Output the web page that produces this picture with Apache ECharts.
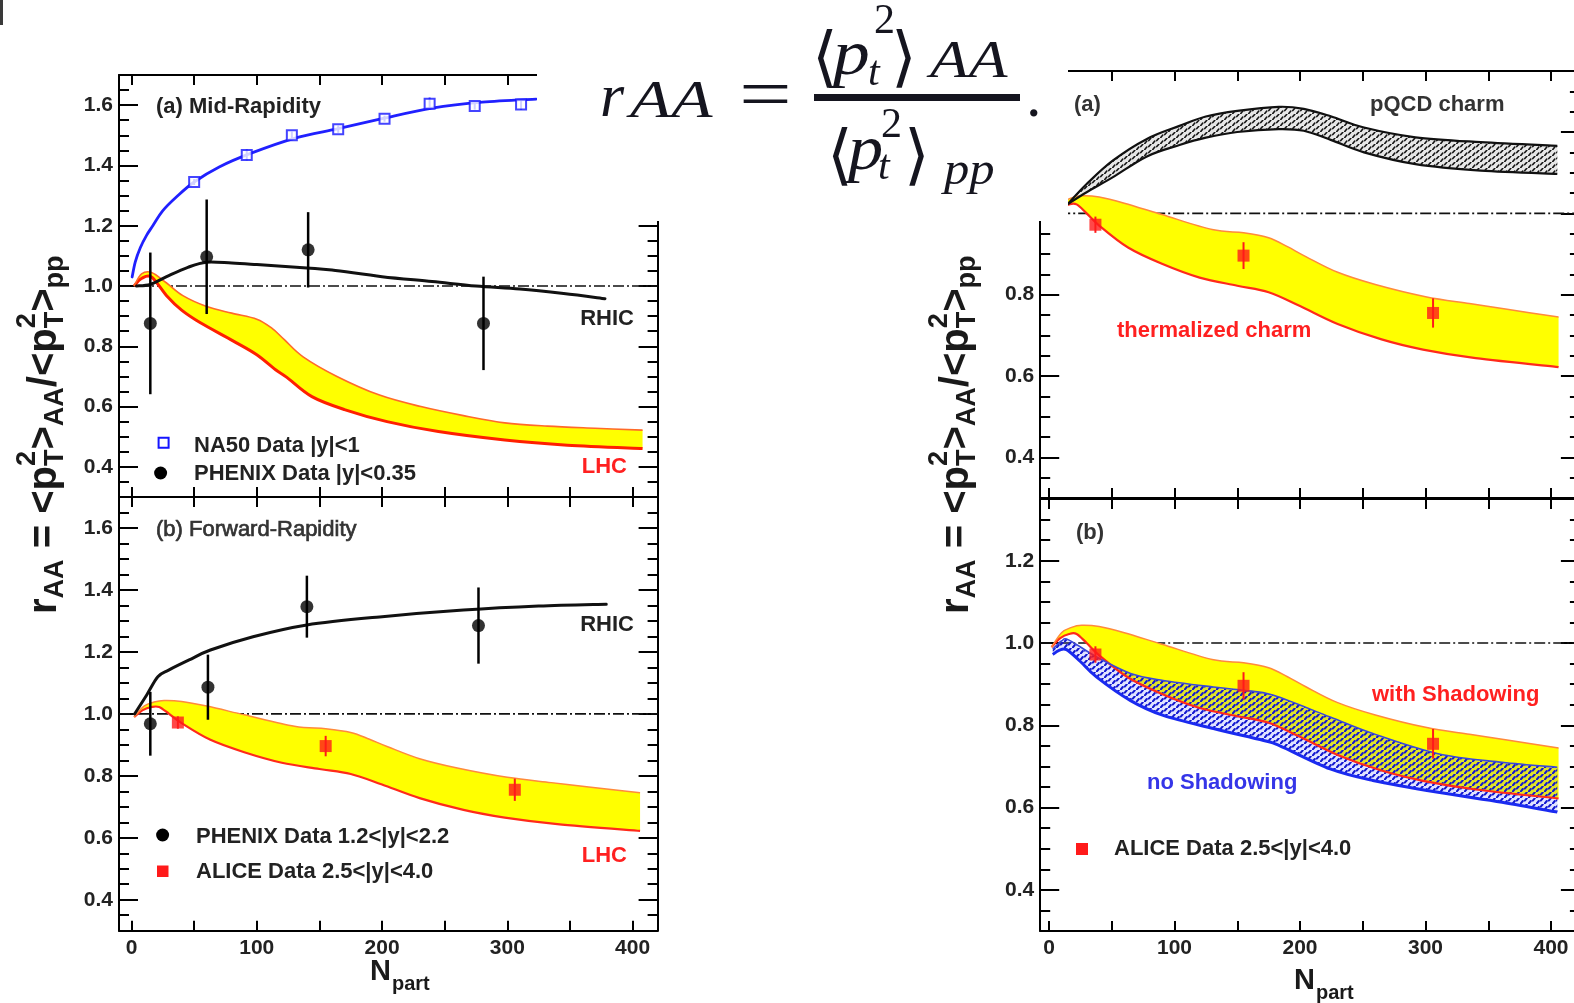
<!DOCTYPE html>
<html>
<head>
<meta charset="utf-8">
<title>r_AA versus N_part</title>
<script src="https://cdn.jsdelivr.net/npm/echarts@6.0.0/dist/echarts.min.js"></script>
<style>
  html, body { margin: 0; padding: 0; background: #ffffff; }
  #chart { width: 1574px; height: 1003px; }
</style>
</head>
<body>
<div id="chart"></div>
<script>
// ---------------- axis ranges and tick labels ----------------
const xRangeLeft = [-10, 420];
const xRangeRight = [-7, 423];
const yRangeLeft = [0.3, 1.7];
const yRangeRight = [0.3, 1.35];
const xTickLabels = [0, 100, 200, 300, 400];
const yTickLabelsLeft = [0.4, 0.6, 0.8, 1.0, 1.2, 1.4, 1.6];
const yTickLabelsRight = [0.4, 0.6, 0.8, 1.0, 1.2];
const unityLevel = 1.0;

// ---------------- (a) mid-rapidity, left ----------------
const na50N   = [50, 92, 128, 165, 202, 238, 274, 311];
const na50R   = [1.345, 1.435, 1.50, 1.52, 1.555, 1.605, 1.597, 1.602];
const na50Err = [0.010, 0.018, 0.012, 0.012, 0.010, 0.020, 0.012, 0.018];

const na50CurveN = [0.5, 3, 7, 12, 17, 25, 36, 50, 70, 95, 130, 165, 200, 240, 280, 323];
const na50CurveR = [1.03, 1.08, 1.127, 1.168, 1.2, 1.25, 1.296, 1.345, 1.395, 1.44, 1.49, 1.522, 1.555, 1.59, 1.61, 1.62];

const rhicMidN = [4, 15, 28, 45, 60, 80, 100, 140, 160, 200, 240, 275, 310, 345, 378];
const rhicMidR = [1.0, 1.005, 1.031, 1.062, 1.079, 1.076, 1.071, 1.06, 1.053, 1.031, 1.015, 1.0, 0.99, 0.975, 0.958];

const phenixMidN   = [15, 60, 141, 281];
const phenixMidR   = [0.876, 1.097, 1.12, 0.876];
const phenixMidErr = [0.235, 0.19, 0.125, 0.155];

const lhcMidUpN = [2, 8, 16, 28, 41, 60, 80, 100, 112, 122, 137, 164, 198, 231, 265, 298, 332, 370, 408];
const lhcMidUpR = [1.0, 1.04, 1.045, 1.01, 0.968, 0.932, 0.91, 0.89, 0.86, 0.822, 0.765, 0.70, 0.638, 0.60, 0.57, 0.546, 0.535, 0.528, 0.522];
const lhcMidLoN = [2, 8, 16, 28, 40, 55, 81, 100, 115, 124, 144, 170, 204, 245, 298, 348, 408];
const lhcMidLoR = [1.0, 1.025, 1.03, 0.968, 0.92, 0.878, 0.818, 0.772, 0.722, 0.697, 0.633, 0.59, 0.55, 0.517, 0.489, 0.472, 0.461];

// ---------------- (b) forward-rapidity, left ----------------
const rhicFwdN = [2.5, 12, 21, 30, 46, 63, 97, 140, 198, 265, 325, 379];
const rhicFwdR = [1.0, 1.06, 1.12, 1.142, 1.174, 1.206, 1.249, 1.287, 1.313, 1.335, 1.348, 1.354];

const phenixFwdN   = [15, 61, 140, 277];
const phenixFwdR   = [0.968, 1.086, 1.346, 1.285];
const phenixFwdErr = [0.103, 0.105, 0.10, 0.123];

const aliceN   = [37, 155, 306];
const aliceR   = [0.972, 0.896, 0.755];
const aliceErr = [0.02, 0.033, 0.036];

// LHC band with shadowing (shared by the forward panels on both sides)
const lhcFwdUpN = [2, 10, 18, 26, 40, 60, 90, 130, 155, 175, 190, 205, 230, 260, 300, 335, 365, 406];
const lhcFwdUpR = [0.99, 1.025, 1.038, 1.043, 1.04, 1.025, 0.997, 0.96, 0.952, 0.94, 0.918, 0.893, 0.855, 0.825, 0.795, 0.778, 0.764, 0.745];
const lhcFwdLoN = [2, 9, 16, 22, 30, 40, 63, 90, 120, 150, 175, 200, 230, 265, 298, 340, 406];
const lhcFwdLoR = [0.99, 1.012, 1.022, 1.022, 1.0, 0.97, 0.916, 0.876, 0.842, 0.822, 0.806, 0.772, 0.728, 0.69, 0.665, 0.644, 0.622];

// ---------------- right column ----------------
const pqcdN   = [15, 30, 51, 78, 104, 125, 150, 183, 203, 225, 251, 292, 344, 405];
const pqcdUpR = [1.023, 1.072, 1.13, 1.183, 1.215, 1.238, 1.252, 1.262, 1.257, 1.238, 1.211, 1.187, 1.175, 1.166];
const pqcdLoR = [1.023, 1.052, 1.089, 1.14, 1.168, 1.186, 1.2, 1.207, 1.203, 1.18, 1.15, 1.121, 1.105, 1.097];

const noShadUpN = [3, 10, 16, 38, 65, 91, 131, 155, 179, 224, 258, 310, 361, 405];
const noShadUpR = [0.985, 1.005, 1.007, 0.966, 0.926, 0.909, 0.893, 0.885, 0.873, 0.82, 0.78, 0.731, 0.71, 0.698];
const noShadLoN = [3, 8, 14, 25, 38, 65, 91, 131, 171, 184, 224, 258, 310, 361, 405];
const noShadLoR = [0.972, 0.982, 0.984, 0.955, 0.917, 0.86, 0.824, 0.792, 0.763, 0.75, 0.694, 0.666, 0.637, 0.613, 0.589];

// ---------------- helpers ----------------
const zip = (a, b) => a.map((v, i) => [v, b[i]]);
const zip3 = (a, b, c) => a.map((v, i) => [v, b[i], c[i]]);
const SANS = '"Liberation Sans", Arial, sans-serif';
const SERIF = '"Liberation Serif", "Times New Roman", serif';

// Catmull-Rom spline through screen points, as cubic path commands
function spline(pts) {
  let d = '';
  for (let i = 0; i < pts.length - 1; i++) {
    const p0 = pts[i - 1] || pts[i], p1 = pts[i], p2 = pts[i + 1], p3 = pts[i + 2] || p2;
    const k = 1 / 6;
    const c1x = p1[0] + (p2[0] - p0[0]) * k, c1y = p1[1] + (p2[1] - p0[1]) * k;
    const c2x = p2[0] - (p3[0] - p1[0]) * k, c2y = p2[1] - (p3[1] - p1[1]) * k;
    d += ' C' + c1x + ',' + c1y + ' ' + c2x + ',' + c2y + ' ' + p2[0] + ',' + p2[1];
  }
  return d;
}
const openPath = P => 'M' + P[0][0] + ',' + P[0][1] + spline(P);

// small tiling canvases for the hatched bands (short slanted dashes)
function hatch(color, w, h, segs, lw, tint) {
  const c = document.createElement('canvas');
  c.width = w; c.height = h;
  const g = c.getContext('2d');
  if (tint) { g.fillStyle = tint; g.fillRect(0, 0, w, h); }
  g.strokeStyle = color; g.lineWidth = lw; g.lineCap = 'round';
  segs.forEach(s => { g.beginPath(); g.moveTo(s[0], s[1]); g.lineTo(s[2], s[3]); g.stroke(); });
  return c;
}
const pqcdHatch = hatch('#151515', 8, 6, [[0.8, 5.4, 2.8, 3], [4.8, 2.6, 6.8, 0.3]], 1.6, 'rgba(120,120,120,0.18)');
const blueHatch = hatch('#1218d0', 8, 6, [[0.8, 5.4, 2.8, 3], [4.8, 2.6, 6.8, 0.3]], 2, 'rgba(70,90,255,0.16)');

const ax = gi => ({ xAxisIndex: 2 * gi, yAxisIndex: 2 * gi });

// filled band between an upper and a lower curve
function band(gi, up, lo, opt) {
  return Object.assign({
    type: 'custom', coordinateSystem: 'cartesian2d', silent: true, z: opt.z || 2,
    data: [up[0]], encode: { x: 0, y: 1 },
    renderItem(params, api) {
      const U = up.map(p => api.coord(p));
      const L = lo.map(p => api.coord(p));
      const Lr = L.slice().reverse();
      const fillPath = openPath(U) + ' L' + Lr[0][0] + ',' + Lr[0][1] + spline(Lr) + ' Z';
      const kids = [];
      if (opt.fill) kids.push({ type: 'path', shape: { pathData: fillPath }, style: { fill: opt.fill, stroke: null } });
      if (opt.loStroke) kids.push({ type: 'path', shape: { pathData: openPath(L) },
        style: { fill: null, stroke: opt.loStroke, lineWidth: opt.loWidth, lineJoin: 'round' } });
      if (opt.upStroke) kids.push({ type: 'path', shape: { pathData: openPath(U) },
        style: { fill: null, stroke: opt.upStroke, lineWidth: opt.upWidth, lineJoin: 'round' } });
      return { type: 'group', children: kids };
    }
  }, ax(gi));
}

// smooth model curve
function curve(gi, data, color, width) {
  return Object.assign({
    type: 'custom', coordinateSystem: 'cartesian2d', silent: true, z: 4,
    data: [data[0]], encode: { x: 0, y: 1 },
    renderItem(params, api) {
      const P = data.map(p => api.coord(p));
      return { type: 'path', shape: { pathData: openPath(P) },
        style: { fill: null, stroke: color, lineWidth: width, lineJoin: 'round', lineCap: 'round' } };
    }
  }, ax(gi));
}

function errorBars(gi, data, color, width) {
  return Object.assign({
    type: 'custom', coordinateSystem: 'cartesian2d', silent: true, z: 5, data, encode: { x: 0, y: 1 },
    renderItem(params, api) {
      const n = api.value(0), r = api.value(1), e = api.value(2);
      const a = api.coord([n, r + e]), b = api.coord([n, r - e]);
      return { type: 'line', shape: { x1: a[0], y1: a[1], x2: b[0], y2: b[1] }, style: { stroke: color, lineWidth: width } };
    }
  }, ax(gi));
}

function points(gi, data, symbol, size, itemStyle) {
  return Object.assign({ type: 'scatter', data, symbol, symbolSize: size, z: 6, silent: true, itemStyle }, ax(gi));
}

function unity(gi, range) {
  return Object.assign({ type: 'line', data: [[range[0], unityLevel], [range[1], unityLevel]], symbol: 'none', z: 1, silent: true,
    lineStyle: { color: '#111', width: 1.6, type: [11, 3, 2, 3] } }, ax(gi));
}

const inList = (list, v) => list.some(t => Math.abs(t - v) < 1e-6);
const labelFont = { fontFamily: SANS, fontWeight: 'bold', fontSize: 21, color: '#222' };

function xAxesFor(gi, range, showLabels) {
  const base = {
    type: 'value', gridIndex: gi, min: range[0], max: range[1], splitNumber: 9,
    axisLine: { onZero: false, lineStyle: { color: '#000', width: 2 } },
    axisTick: { inside: true, length: 10, lineStyle: { color: '#000', width: 2 } },
    splitLine: { show: false }
  };
  return [
    Object.assign({}, base, { position: 'bottom',
      axisLabel: Object.assign({ show: showLabels, margin: 7, formatter: v => inList(xTickLabels, v) ? String(Math.round(v)) : '' }, labelFont) }),
    Object.assign({}, base, { position: 'top', axisLabel: { show: false } })
  ];
}

function yAxesFor(gi, range, split, labels) {
  const base = {
    type: 'value', gridIndex: gi, min: range[0], max: range[1], splitNumber: split,
    axisLine: { onZero: false, lineStyle: { color: '#000', width: 2 } },
    axisTick: { inside: true, length: 19, lineStyle: { color: '#000', width: 2 } },
    minorTick: { show: true, splitNumber: 4, length: 10, lineStyle: { color: '#000', width: 2 } },
    splitLine: { show: false }, minorSplitLine: { show: false }
  };
  return [
    Object.assign({}, base, { position: 'left',
      axisLabel: Object.assign({ margin: 6, formatter: v => inList(labels, v) ? v.toFixed(1) : '' }, labelFont) }),
    Object.assign({}, base, { position: 'right', axisLabel: { show: false } })
  ];
}

// ---------------- text helpers ----------------
function txt(str, x, cy, font, fill, align, extra) {
  return Object.assign({ type: 'text', x, y: cy, z: 20, silent: true,
    style: { text: str, font, fill, textAlign: align || 'left', align: align || 'left', textVerticalAlign: 'middle', verticalAlign: 'middle' } }, extra || {});
}
// place by baseline
function btxt(str, x, base, size, font, fill, extra) {
  return txt(str, x, base - 0.34 * size, font, fill, 'left', extra);
}

const measureCtx = document.createElement('canvas').getContext('2d');
function textWidth(str, font) { measureCtx.font = font; return measureCtx.measureText(str).width; }

// rotated ratio label: r_AA = <p_T^2>_AA/<p_T^2>_pp
const titleTokens = [
  { t: 'r' }, { sub: 'AA' }, { t: ' = ' },
  { t: '<p' }, { sub: 'T', sup: '2' }, { t: '>' }, { sub: 'AA' }, { t: '/' },
  { t: '<p' }, { sub: 'T', sup: '2' }, { t: '>' }, { sub: 'pp' }
];
function ratioTitle(xBase, yStart) {
  const S = 40, s = 27;
  const f = size => 'bold ' + size + 'px ' + SANS;
  const kids = [];
  let pos = 0;
  const put = (str, size, dy, at) => {
    kids.push({ type: 'text', x: at, y: dy - 0.34 * size, z: 20, silent: true,
      style: { text: str, font: f(size), fill: '#1a1a1a', textAlign: 'left', align: 'left', textVerticalAlign: 'middle', verticalAlign: 'middle' } });
    return textWidth(str, f(size));
  };
  titleTokens.forEach(tk => {
    if (tk.t !== undefined) { pos += put(tk.t, S, 0, pos); }
    else {
      let w = 0;
      if (tk.sub) w = Math.max(w, put(tk.sub, s, 6, pos));
      if (tk.sup) w = Math.max(w, put(tk.sup, s, -22, pos));
      pos += w;
    }
  });
  return { type: 'group', x: xBase, y: yStart, rotation: Math.PI / 2, z: 20, children: kids };
}

function npartTitle(x, base) {
  const big = 'bold 29px ' + SANS, small = 'bold 20px ' + SANS;
  const w = textWidth('N', big);
  return [btxt('N', x, base, 29, big, '#1a1a1a'), btxt('part', x + w + 1, base + 9, 20, small, '#1a1a1a')];
}

const B22 = 'bold 22px ' + SANS;
const RED = '#ff2020', BLUE = '#3535e8', DARK = '#222';

// ---------------- formula on top ----------------
const it = size => 'italic ' + size + 'px ' + SERIF;
const up = size => size + 'px ' + SERIF;
const ink = '#15151f';
const formula = [
  btxt('r', 600, 121, 62, it(62), ink),
  btxt('AA', 630, 121, 52, it(52), ink, { scaleX: 1.3 }),
  btxt('=', 739, 124, 72, up(72), ink, { scaleX: 1.3 }),
  // numerator
  btxt('\u27E8', 812, 84, 66, up(66), ink),
  btxt('p', 833, 79, 64, it(64), ink, { scaleX: 1.15 }),
  btxt('2', 874, 36, 42, up(42), ink),
  btxt('t', 868, 88, 42, it(42), ink),
  btxt('\u27E9', 891, 84, 66, up(66), ink),
  btxt('AA', 930, 81, 52, it(52), ink, { scaleX: 1.22 }),
  // denominator
  btxt('\u27E8', 827, 182, 66, up(66), ink),
  btxt('p', 848, 174, 64, it(64), ink, { scaleX: 1.1 }),
  btxt('2', 881, 140, 42, up(42), ink),
  btxt('t', 878, 182, 42, it(42), ink),
  btxt('\u27E9', 904, 182, 66, up(66), ink),
  btxt('pp', 944, 188, 46, it(46), ink, { scaleX: 1.1 }),
  btxt('.', 1026, 121, 62, up(62), ink)
];
formula.forEach(e => { e.z = 61; });

const graphics = [
  // white panel occluding the upper middle of the figure
  { type: 'rect', z: 60, silent: true, shape: { x: 537, y: 0, width: 531, height: 221 }, style: { fill: '#ffffff' } },
  { type: 'rect', z: 61, silent: true, shape: { x: 814, y: 94, width: 206, height: 7 }, style: { fill: ink } },
  ...formula,
  { type: 'rect', z: 20, silent: true, shape: { x: 0, y: 0, width: 3, height: 25 }, style: { fill: '#3a3a3a' } },

  // left column annotations
  txt('(a) Mid-Rapidity', 156, 106.5, B22, DARK),
  { type: 'rect', z: 20, silent: true, shape: { x: 158.6, y: 437.7, width: 10, height: 10 }, style: { fill: '#fff', stroke: '#1515ff', lineWidth: 2 } },
  txt('NA50 Data |y|<1', 194, 446, B22, DARK),
  { type: 'circle', z: 20, silent: true, shape: { cx: 160.6, cy: 473, r: 6.5 }, style: { fill: '#000' } },
  txt('PHENIX Data |y|<0.35', 194, 474, B22, DARK),
  txt('RHIC', 634, 319, B22, DARK, 'right'),
  txt('LHC', 627, 467, B22, RED, 'right'),

  txt('(b) Forward-Rapidity', 156, 530, '22px ' + SANS, '#333', 'left', {}),
  txt('RHIC', 634, 624.5, B22, DARK, 'right'),
  txt('LHC', 627, 856, B22, RED, 'right'),
  { type: 'circle', z: 20, silent: true, shape: { cx: 162.6, cy: 835, r: 6.5 }, style: { fill: '#000' } },
  txt('PHENIX Data 1.2<|y|<2.2', 196, 836.5, B22, DARK),
  { type: 'rect', z: 20, silent: true, shape: { x: 157, y: 865.5, width: 11.5, height: 11.5 }, style: { fill: '#ff1a1a' } },
  txt('ALICE Data 2.5<|y|<4.0', 196, 872, B22, DARK),

  // right column annotations
  txt('(a)', 1074, 104.5, B22, '#333'),
  txt('pQCD charm', 1370, 104.5, B22, '#333'),
  txt('thermalized charm', 1117, 331, B22, RED),
  txt('(b)', 1076, 533, B22, '#333'),
  txt('with Shadowing', 1372, 694.6, B22, RED),
  txt('no Shadowing', 1147, 783, B22, BLUE),
  { type: 'rect', z: 20, silent: true, shape: { x: 1076, y: 843, width: 12, height: 12 }, style: { fill: '#ff1a1a' } },
  txt('ALICE Data 2.5<|y|<4.0', 1114, 849, B22, DARK),

  // axis titles
  ratioTitle(59, 614),
  ratioTitle(971, 614),
  ...npartTitle(370, 982),
  ...npartTitle(1294, 991)
];
// slightly heavier stroke for the forward-rapidity heading
graphics.forEach(g => {
  if (g.style && g.style.text === '(b) Forward-Rapidity') { g.style.stroke = '#333'; g.style.lineWidth = 0.7; }
});

// ---------------- series ----------------
const yellowStyle = { fill: '#ffff00', upStroke: '#ff8a3c', upWidth: 1.5, loStroke: '#ff2a1a', loWidth: 2.2 };
const fwdUp = zip(lhcFwdUpN, lhcFwdUpR), fwdLo = zip(lhcFwdLoN, lhcFwdLoR);
const aliceStyle = { color: '#ff1a1a' };

const series = [
  // (a) mid-rapidity
  unity(0, xRangeLeft),
  band(0, zip(lhcMidUpN, lhcMidUpR), zip(lhcMidLoN, lhcMidLoR),
       { fill: '#ffff00', upStroke: '#ff6a2a', upWidth: 1.6, loStroke: '#ff2000', loWidth: 3, z: 2 }),
  curve(0, zip(rhicMidN, rhicMidR), '#111', 3),
  curve(0, zip(na50CurveN, na50CurveR), '#2020ff', 2.8),
  errorBars(0, zip3(phenixMidN, phenixMidR, phenixMidErr), '#000', 2.5),
  points(0, zip(phenixMidN, phenixMidR), 'circle', 13, { color: '#000' }),
  errorBars(0, zip3(na50N, na50R, na50Err), '#1515ff', 2),
  points(0, zip(na50N, na50R), 'rect', 10, { color: '#ffffff', borderColor: '#1515ff', borderWidth: 2 }),

  // (b) forward-rapidity
  unity(1, xRangeLeft),
  band(1, fwdUp, fwdLo, yellowStyle),
  curve(1, zip(rhicFwdN, rhicFwdR), '#111', 3),
  errorBars(1, zip3(phenixFwdN, phenixFwdR, phenixFwdErr), '#000', 2.5),
  points(1, zip(phenixFwdN, phenixFwdR), 'circle', 13, { color: '#000' }),
  errorBars(1, zip3(aliceN, aliceR, aliceErr), '#ff1a1a', 2),
  points(1, zip(aliceN, aliceR), 'rect', 12, aliceStyle),

  // right (a): thermalized vs pQCD charm
  unity(2, xRangeRight),
  band(2, fwdUp, fwdLo, yellowStyle),
  band(2, zip(pqcdN, pqcdUpR), zip(pqcdN, pqcdLoR),
       { fill: { image: pqcdHatch, repeat: 'repeat' }, upStroke: '#111', upWidth: 2.2, loStroke: '#111', loWidth: 2.2, z: 3 }),
  errorBars(2, zip3(aliceN, aliceR, aliceErr), '#ff1a1a', 2),
  points(2, zip(aliceN, aliceR), 'rect', 12, aliceStyle),

  // right (b): with / without shadowing
  unity(3, xRangeRight),
  band(3, fwdUp, fwdLo, { fill: '#ffff00', z: 2 }),
  band(3, zip(noShadUpN, noShadUpR), zip(noShadLoN, noShadLoR),
       { fill: { image: blueHatch, repeat: 'repeat' }, z: 3 }),
  band(3, fwdUp, fwdLo, { upStroke: '#ff8a3c', upWidth: 1.5, loStroke: '#ff2a1a', loWidth: 2.2, z: 4 }),
  band(3, zip(noShadUpN, noShadUpR), zip(noShadLoN, noShadLoR),
       { upStroke: '#3a48d8', upWidth: 1.6, loStroke: '#1a2af0', loWidth: 3, z: 4 }),
  errorBars(3, zip3(aliceN, aliceR, aliceErr), '#ff1a1a', 2),
  points(3, zip(aliceN, aliceR), 'rect', 12, aliceStyle)
];

const option = {
  animation: false,
  backgroundColor: '#ffffff',
  grid: [
    { left: 119, top: 75, width: 538.6, height: 422, outerBoundsMode: 'none', containLabel: false },
    { left: 119, top: 497, width: 538.6, height: 433.7, outerBoundsMode: 'none', containLabel: false },
    { left: 1040.2, top: 71, width: 539.7, height: 427, outerBoundsMode: 'none', containLabel: false },
    { left: 1040.2, top: 499, width: 539.7, height: 432, outerBoundsMode: 'none', containLabel: false }
  ],
  xAxis: [
    ...xAxesFor(0, xRangeLeft, false),
    ...xAxesFor(1, xRangeLeft, true),
    ...xAxesFor(2, xRangeRight, false),
    ...xAxesFor(3, xRangeRight, true)
  ],
  yAxis: [
    ...yAxesFor(0, yRangeLeft, 7, yTickLabelsLeft),
    ...yAxesFor(1, yRangeLeft, 7, yTickLabelsLeft),
    ...yAxesFor(2, yRangeRight, 5, yTickLabelsRight),
    ...yAxesFor(3, yRangeRight, 5, yTickLabelsRight)
  ],
  series,
  graphic: { elements: graphics }
};

const chart = echarts.init(document.getElementById('chart'), null, { renderer: 'canvas' });
chart.setOption(option);
</script>
</body>
</html>
